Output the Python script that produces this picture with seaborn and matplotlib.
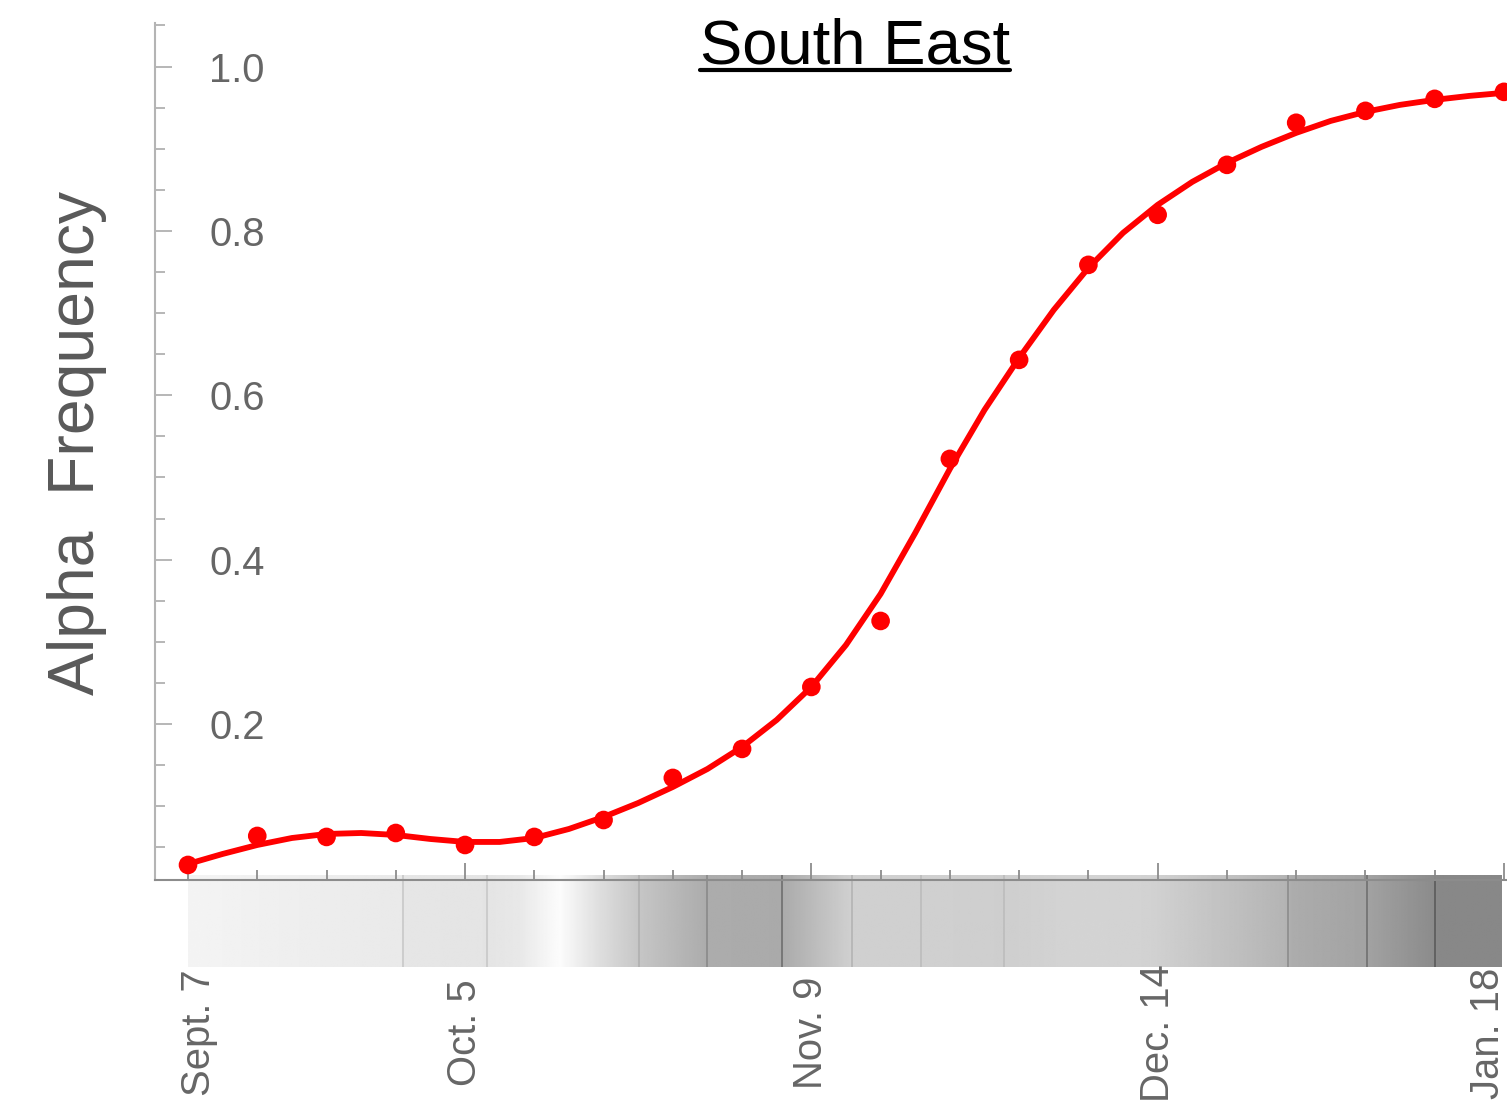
import numpy as np
import matplotlib
matplotlib.use("Agg")
import matplotlib.pyplot as plt
from matplotlib.lines import Line2D
from matplotlib.transforms import ScaledTranslation
import seaborn as sns

# Weekly observed Alpha frequency, South East region (week 0 = Sept. 7)
weeks = np.arange(20)
observed = [0.0285, 0.0638, 0.0626, 0.0674, 0.0528, 0.0626, 0.0832, 0.1344,
            0.1697, 0.2451, 0.3254, 0.5226, 0.6431, 0.7587, 0.8196, 0.8804,
            0.9316, 0.9461, 0.9607, 0.9692]

# Fitted curve, sampled every half week
fit_weeks = np.arange(0, 19.01, 0.5)
fitted = [0.0297, 0.0419, 0.0528, 0.0613, 0.0662, 0.0674, 0.0650, 0.0601,
          0.0565, 0.0565, 0.0613, 0.0723, 0.0869, 0.1039, 0.1234, 0.1453,
          0.1721, 0.2050, 0.2451, 0.2962, 0.3583, 0.4325, 0.5104, 0.5822,
          0.6455, 0.7039, 0.7550, 0.7976, 0.8317, 0.8597, 0.8828, 0.9023,
          0.9193, 0.9339, 0.9449, 0.9534, 0.9595, 0.9643, 0.9680]

tick_weeks = [0, 4, 9, 14, 19]
tick_labels = ["Sept. 7", "Oct. 5", "Nov. 9", "Dec. 14", "Jan. 18"]
tick_label_shift_px = [11, 0, 0, 0, -16]   # keep end labels inside the strip
y_major = [0.2, 0.4, 0.6, 0.8, 1.0]
y_major_labels = ["0.2", "0.4", "0.6", "0.8", "1.0"]

# Grey shading strip under the time axis: stops (week, grey level 0-255)
shade_week = [0.0, 1.04, 3.10, 3.11, 4.32, 4.79, 5.37, 5.95, 6.51, 7.49,
              8.58, 9.59, 10.58, 11.78, 12.88, 13.89, 15.88, 15.98, 17.02,
              18.0, 18.08, 19.0]
shade_grey = [244, 240, 233, 230, 228, 232, 252, 222, 198, 172,
              170, 208, 208, 206, 212, 210, 180, 172, 163,
              140, 136, 136]
shade_edges = [3.10, 4.32, 6.51, 7.49, 8.58, 9.59, 10.58, 11.78, 15.88, 17.02, 18.0]
shade_edge_grey = ["#c8c8c8", "#c8c8c8", "#b0b0b0", "#8a8a8a", "#6e6e6e", "#b4b4b4",
                   "#bcbcbc", "#bcbcbc", "#8c8c8c", "#707070", "#5a5a5a"]

sns.set_theme(style="white")
plt.rcParams["font.family"] = ["Liberation Sans", "DejaVu Sans"]

W, H = 1507, 1106
fig = plt.figure(figsize=(W / 100, H / 100), dpi=100)

def frac_x(px):
    return px / W

def frac_y(py):
    return 1 - py / H

xlim = (-0.4765, 19.044)
ax_left, ax_right, ax_top, ax_bottom = 155, 1507, 23, 880

# shading strip
ax_s = fig.add_axes([frac_x(ax_left), frac_y(967), frac_x(ax_right - ax_left), (967 - 875) / H])
dense = np.linspace(0, 19, 1200)
grey_row = np.interp(dense, shade_week, shade_grey)
ax_s.imshow(grey_row[None, :], cmap="gray", vmin=0, vmax=255, extent=(0, 18.97, 0, 1),
            aspect="auto", interpolation="bilinear")
ax_s.vlines(shade_edges, 0, 1, colors=shade_edge_grey, lw=1.2)
ax_s.set_xlim(*xlim)
ax_s.set_ylim(0, 1)
ax_s.axis("off")

# main plot
ax = fig.add_axes([frac_x(ax_left), frac_y(ax_bottom), frac_x(ax_right - ax_left),
                   (ax_bottom - ax_top) / H])
ax.set_facecolor("none")
ax.set_zorder(3)

sns.lineplot(x=fit_weeks, y=fitted, color="#ff0000", lw=4.2, ax=ax,
             solid_joinstyle="round", solid_capstyle="round")
sns.scatterplot(x=weeks, y=observed, color="#ff0000", s=180, edgecolor="none",
                ax=ax, zorder=4)

ax.set_xlim(*xlim)
ax.set_ylim(0.0102, 1.053)

for side in ("top", "right"):
    ax.spines[side].set_visible(False)
ax.spines["left"].set_color("#b4b4b4")
ax.spines["left"].set_linewidth(1.5)
ax.spines["bottom"].set_color("#8c8c8c")
ax.spines["bottom"].set_linewidth(1.5)

ax.set_yticks(y_major, y_major_labels)
ax.set_yticks(np.round(np.arange(0.05, 1.051, 0.05), 2), minor=True)
ax.tick_params(axis="y", which="both", left=True)
ax.tick_params(axis="y", which="major", direction="in", length=12.2, width=1.2,
               color="#aaaaaa", labelsize=28.8, labelcolor="#666666", pad=-79)
ax.tick_params(axis="y", which="minor", direction="in", length=7.2, width=1.2,
               color="#aaaaaa")

ax.set_xticks(tick_weeks, [""] * len(tick_weeks))
ax.set_xticks(weeks, minor=True)
ax.tick_params(axis="x", which="both", bottom=True)
ax.tick_params(axis="x", which="major", direction="in", length=12.2, width=1.3,
               color="#8c8c8c")
ax.tick_params(axis="x", which="minor", direction="in", length=7.2, width=1.3,
               color="#8c8c8c")

# rotated date labels below the shading strip
label_y = (ax_bottom - 1033) / (ax_bottom - ax_top)
for wk, text, shift in zip(tick_weeks, tick_labels, tick_label_shift_px):
    trans = ax.get_xaxis_transform() + ScaledTranslation(shift / 100, 0, fig.dpi_scale_trans)
    ax.text(wk, label_y, text, rotation=90, ha="center", va="center", fontsize=28.8,
            color="#666666", transform=trans, clip_on=False)

ax.set_xlabel("")
ax.set_ylabel("")

fig.text(frac_x(77), frac_y(443), "Alpha  Frequency", rotation=90, ha="center",
         va="center", fontsize=46.3, color="#595959")

title = fig.text(frac_x(855), frac_y(63), "South East", ha="center", va="baseline",
                 fontsize=45.6, color="black")
fig.canvas.draw()
bb = title.get_window_extent(fig.canvas.get_renderer())
fig.add_artist(Line2D([bb.x0 / W, bb.x1 / W], [frac_y(70), frac_y(70)],
                      transform=fig.transFigure, color="black", lw=3.0))

fig.savefig("out.png", dpi=100, facecolor="white")
